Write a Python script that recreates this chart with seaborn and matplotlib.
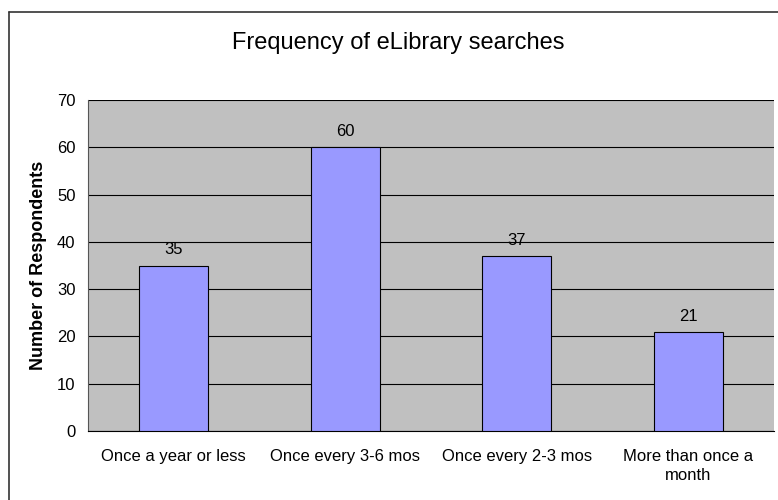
import numpy as np
import pandas as pd
import matplotlib
matplotlib.use('Agg')
import matplotlib.pyplot as plt
import seaborn as sns
from matplotlib.lines import Line2D

categories = ['Once a year or less', 'Once every 3-6 mos', 'Once every 2-3 mos',
              'More than once a\nmonth']
respondents = [35, 60, 37, 21]
title = 'Frequency of eLibrary searches'
ylabel = 'Number of Respondents'

df = pd.DataFrame({'freq': categories, 'n': respondents})

sns.set_style('white', {'text.color': 'black', 'axes.labelcolor': 'black',
                        'xtick.color': 'black', 'ytick.color': 'black'})
plt.rcParams['font.family'] = ['Liberation Sans', 'DejaVu Sans']

fig = plt.figure(figsize=(7.78, 5), dpi=100)
ax = fig.add_axes([88/778, 1 - 431/500, (774 - 88)/778, (431 - 100)/500])
ax.set_facecolor('#C0C0C0')

sns.barplot(data=df, x='freq', y='n', color='#9999FF', edgecolor='black',
            linewidth=0.8, width=0.4, saturation=1, ax=ax, zorder=3)

ax.set_ylim(0, 70)
ax.set_xlim(-0.5, 3.5)
ax.set_yticks(np.arange(0, 71, 10))
ax.yaxis.grid(True, color='black', linewidth=0.8, zorder=0)
ax.set_axisbelow(True)

# category boundary ticks like Excel
ax.set_xticks(np.arange(-0.5, 4, 1), minor=True)
ax.tick_params(axis='x', which='major', length=0, pad=13, labelsize=12, labelcolor='black')
ax.tick_params(axis='x', which='minor', length=4, width=0.8, color='#333333', direction='out')
ax.tick_params(axis='y', length=4, width=0.8, color='#333333', direction='out',
               labelsize=12, pad=5, labelcolor='black')
for lbl in ax.get_xticklabels():
    lbl.set_linespacing(1.35)

for s in ['top', 'right']:
    ax.spines[s].set_visible(False)
ax.spines['left'].set_color('#555555')
ax.spines['bottom'].set_color('black')
ax.spines['left'].set_linewidth(0.8)
ax.spines['bottom'].set_linewidth(0.8)

for i, v in enumerate(respondents):
    ax.text(i, v + 1.7, str(v), ha='center', va='bottom', fontsize=12, color='black')

ax.set_xlabel('')
ax.set_ylabel(ylabel, fontsize=13, fontweight='bold', color='black')
ax.yaxis.set_label_coords((47 - 88)/686, 0.5)
fig.text(398/778, 1 - 43/500, title, ha='center', va='center', fontsize=17, color='black')

# chart frame (cropped on right and bottom)
fig.add_artist(Line2D([9/778, 9/778], [0, 1 - 12/500], color='#333333', lw=1.2))
fig.add_artist(Line2D([9/778, 1], [1 - 12/500, 1 - 12/500], color='#333333', lw=1.2))

fig.savefig('out.png', dpi=100)
